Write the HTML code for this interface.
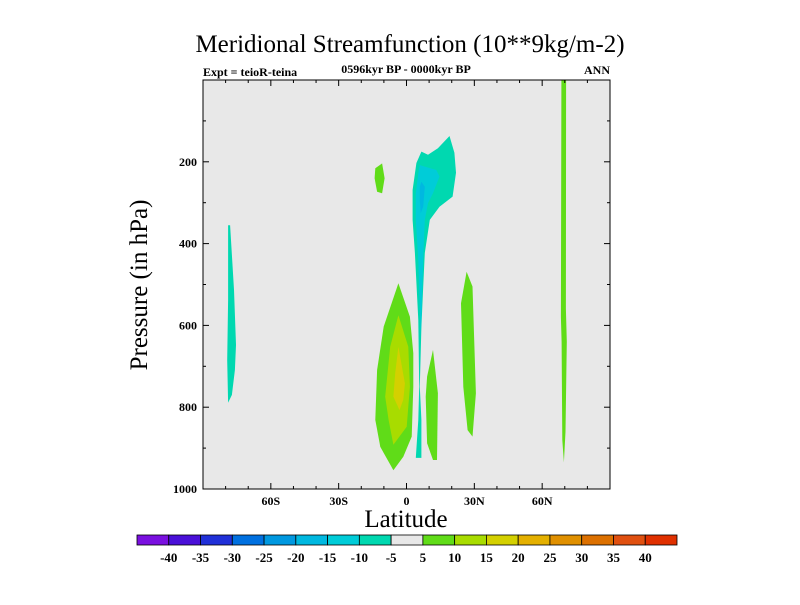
<!DOCTYPE html>
<html><head><meta charset="utf-8"><style>
body{margin:0;background:#fff;width:800px;height:600px;overflow:hidden}
svg text{font-family:"Liberation Serif",serif;fill:#000}
.b{font-weight:bold}
</style></head><body>
<svg id="chart" width="800" height="600" xmlns="http://www.w3.org/2000/svg">
<text x="410" y="52" font-size="25" text-anchor="middle">Meridional Streamfunction (10**9kg/m-2)</text>
<text x="203" y="76" font-size="12" class="b">Expt = teioR-teina</text>
<text x="406" y="73" font-size="12" class="b" text-anchor="middle">0596kyr BP - 0000kyr BP</text>
<text x="610" y="74" font-size="12" class="b" text-anchor="end">ANN</text>
<rect x="203" y="80" width="407" height="409" fill="#e8e8e8"/>
<g id="shapes"></g>
<rect x="203" y="80" width="407" height="409" fill="none" stroke="#000" stroke-width="1"/>
<g id="axes"></g>
<text x="147" y="285" font-size="25" text-anchor="middle" transform="rotate(-90 147 285)">Pressure (in hPa)</text>
<text x="406" y="527" font-size="25" text-anchor="middle">Latitude</text>
<g id="colorbar"></g>
</svg>
<script>
const levelLabels=[-40,-35,-30,-25,-20,-15,-10,-5,5,10,15,20,25,30,35,40];
const levelColors=["#7a10e0","#4a10d8","#2030d8","#0070e0","#0098e0","#00b8e0","#00ccd8","#00d8b0","#e8e8e8","#60dc18","#a8dc00","#d4d000","#e4b000","#e09000","#dc7000","#e05010","#e03000"];
const latTicks=[-60,-30,0,30,60];
const latTickLabels=["60S","30S","0","30N","60N"];
const presTicks=[200,400,600,800,1000];
const tealBig=[[6.6,175],[9.5,183],[13.9,167],[19.0,137],[21.2,178],[21.9,227],[20.4,285],[14.6,310],[10.3,342],[8.1,423],[7.4,506],[6.6,604],[5.9,750],[6.6,831],[6.6,924],[4.1,924],[5.2,831],[5.6,750],[5.2,587],[3.7,423],[2.7,342],[2.7,269],[4.4,203]];
const cyanMid=[[5.9,208],[13.2,220],[14.6,236],[11.7,277],[9.5,301],[8.1,342],[7.4,440],[6.6,587],[6.3,628],[5.2,440],[4.1,342],[4.1,277],[5.2,228]];
const blueCore=[[6.6,249],[8.1,261],[7.4,310],[6.3,326],[5.9,293],[5.9,261]];
const greenBlob=[[-13.8,216],[-10.8,204],[-9.7,240],[-10.8,277],[-13.0,273],[-14.1,240]];
const greenBig=[[-3.6,497],[1.5,579],[3.0,668],[3.0,750],[2.3,872],[-1.4,921],[-5.8,954],[-11.6,897],[-13.8,831],[-13.0,709],[-10.1,603]];
const ygMid=[[-3.6,575],[0.8,652],[1.5,750],[0.1,848],[-5.8,892],[-7.9,831],[-9.4,774],[-7.2,652]];
const yellowCore=[[-3.6,652],[-0.7,742],[-1.4,782],[-3.1,807],[-5.8,774],[-5.0,717]];
const greenRight=[[11.7,660],[13.9,766],[13.5,929],[11.7,929],[9.1,888],[8.5,774],[9.1,725]];
const green30N=[[26.6,469],[29.2,505],[29.9,628],[30.7,766],[29.2,872],[27.0,856],[25.1,750],[24.1,546]];
const green70N=[[68.5,0],[70.6,0],[70.5,560],[70.9,640],[70.3,860],[69.6,935],[68.9,880],[68.6,640],[68.3,580]];
const teal75S=[[-78.9,355],[-78.0,355],[-76.3,513],[-75.4,648],[-75.9,709],[-77.2,770],[-78.9,789],[-79.3,685],[-78.9,538]];
const regions=[[7,tealBig,"teal-region-upper"],[6,cyanMid,"cyan-region"],[5,blueCore,"blue-core"],[9,greenBlob,"green-blob-15s"],[9,greenBig,"green-region-eq"],[10,ygMid,"yellowgreen-region"],[11,yellowCore,"yellow-core"],[9,greenRight,"green-region-10n"],[9,green30N,"green-region-30n"],[9,green70N,"green-strip-70n"],[7,teal75S,"teal-region-75s"]];
const X0=203,X1=610,Y0=80,Y1=489;
const xs=l=>X0+(l+90)/180*(X1-X0);
const ys=p=>Y0+p/1000*(Y1-Y0);
const NS="http://www.w3.org/2000/svg";
function mk(t,a,parent){const e=document.createElementNS(NS,t);for(const k in a)e.setAttribute(k,a[k]);parent.appendChild(e);return e;}
const sh=document.getElementById('shapes');
regions.forEach(r=>{
 const e=mk('polygon',{points:r[1].map(p=>xs(p[0]).toFixed(1)+','+ys(p[1]).toFixed(1)).join(' '),fill:levelColors[r[0]]},sh);
 
 
});
const ax=document.getElementById('axes');
for(let l=-80;l<=80;l+=10){const maj=l%30===0;const len=maj?6:3;
 mk('line',{x1:xs(l),x2:xs(l),y1:Y1,y2:Y1-len,stroke:'#000'},ax);
 mk('line',{x1:xs(l),x2:xs(l),y1:Y0,y2:Y0+len,stroke:'#000'},ax);}
latTicks.forEach((l,i)=>{const t=mk('text',{x:xs(l),y:Y1+16,'font-size':12,'text-anchor':'middle','class':'b'},ax);t.textContent=latTickLabels[i];
 
 });
for(let p=100;p<1000;p+=100){const len=p%200===0?6:3;
 mk('line',{x1:X0,x2:X0+len,y1:ys(p),y2:ys(p),stroke:'#000'},ax);
 mk('line',{x1:X1,x2:X1-len,y1:ys(p),y2:ys(p),stroke:'#000'},ax);}
presTicks.forEach(p=>{const t=mk('text',{x:X0-6,y:ys(p)+4,'font-size':12,'text-anchor':'end','class':'b'},ax);t.textContent=p;
 
 });
const cb=document.getElementById('colorbar');
const cx0=137,cw=540/levelColors.length,cy=535,ch=10;
levelColors.forEach((c,i)=>{const r=mk('rect',{x:cx0+i*cw,y:cy,width:cw,height:ch,fill:c,stroke:'#000','stroke-width':0.8},cb);
 
 });
levelLabels.forEach((v,i)=>{const t=mk('text',{x:cx0+(i+1)*cw,y:cy+27,'font-size':13,'text-anchor':'middle','class':'b'},cb);t.textContent=v;
 
 });
</script>
</body></html>
